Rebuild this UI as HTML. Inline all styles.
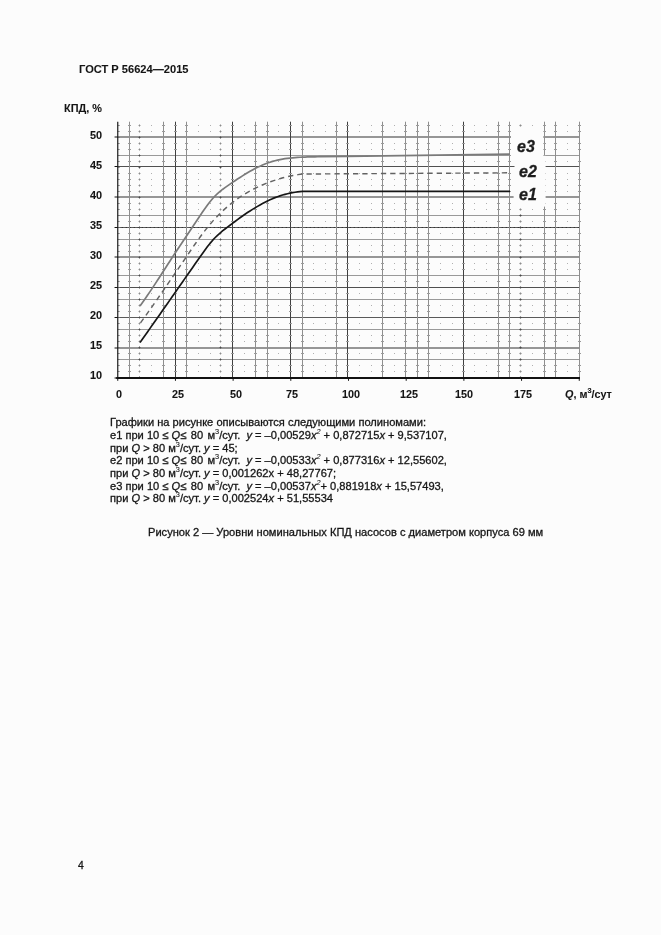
<!DOCTYPE html>
<html lang="ru">
<head>
<meta charset="utf-8">
<title>ГОСТ Р 56624—2015</title>
<style>
html,body{margin:0;padding:0;}
body{width:661px;height:935px;background:#fcfcfc;position:relative;overflow:hidden;
 font-family:"Liberation Sans",sans-serif;color:#151515;-webkit-text-stroke:0.3px #151515;}
.t{position:absolute;white-space:pre;line-height:1;will-change:transform;}
.b{font-weight:bold;}
.b,.hdr,.yl,.xl{-webkit-text-stroke:0.08px #151515;}
.lab{-webkit-text-stroke:0.3px #1c1c1c;}
.hdr{left:79.2px;top:63.85px;font-size:11.1px;font-weight:bold;}
.yl{font-size:10.9px;font-weight:bold;width:24px;text-align:right;left:78px;}
.xl{font-size:10.8px;font-weight:bold;top:388.9px;}
.body{font-size:11.1px;left:110px;}
i{font-style:italic;}
sup{font-size:7.3px;vertical-align:baseline;position:relative;top:-4.9px;line-height:0;-webkit-text-stroke:0.1px #151515;}
svg{position:absolute;left:0;top:0;}
.lab{font-weight:bold;font-style:italic;font-size:16px;color:#1c1c1c;}
</style>
</head>
<body>
<div class="t hdr">ГОСТ Р 56624—2015</div>
<div class="t b" style="left:64.3px;top:102.7px;font-size:10.9px;">КПД, %</div>

<div class="t yl" style="top:129.5px;">50</div>
<div class="t yl" style="top:159.5px;">45</div>
<div class="t yl" style="top:189.5px;">40</div>
<div class="t yl" style="top:219.5px;">35</div>
<div class="t yl" style="top:249.5px;">30</div>
<div class="t yl" style="top:279.5px;">25</div>
<div class="t yl" style="top:309.5px;">20</div>
<div class="t yl" style="top:339.5px;">15</div>
<div class="t yl" style="top:369.5px;">10</div>

<svg width="661" height="935" viewBox="0 0 661 935">
<g id="grid">
<line x1="117.75" x2="579.40" y1="155.50" y2="155.50" stroke="#999" stroke-width="1"/>
<line x1="117.75" x2="579.40" y1="215.50" y2="215.50" stroke="#999" stroke-width="1"/>
<line x1="117.75" x2="579.40" y1="239.50" y2="239.50" stroke="#999" stroke-width="1"/>
<line x1="117.75" x2="579.40" y1="275.50" y2="275.50" stroke="#999" stroke-width="1"/>
<line x1="117.75" x2="579.40" y1="299.50" y2="299.50" stroke="#999" stroke-width="1"/>
<line x1="117.75" x2="579.40" y1="329.50" y2="329.50" stroke="#999" stroke-width="1"/>
<line x1="117.75" x2="579.40" y1="359.50" y2="359.50" stroke="#999" stroke-width="1"/>
<line x1="117.75" x2="579.40" y1="137.00" y2="137.00" stroke="#969696" stroke-width="2"/>
<line x1="117.75" x2="579.40" y1="166.50" y2="166.50" stroke="#505050" stroke-width="1"/>
<line x1="117.75" x2="579.40" y1="197.00" y2="197.00" stroke="#969696" stroke-width="2"/>
<line x1="117.75" x2="579.40" y1="227.50" y2="227.50" stroke="#5a5a5a" stroke-width="1"/>
<line x1="117.75" x2="579.40" y1="227.50" y2="227.50" stroke="#2a2a2a" stroke-width="1" stroke-dasharray="1 3"/>
<line x1="117.75" x2="579.40" y1="257.00" y2="257.00" stroke="#969696" stroke-width="2"/>
<line x1="117.75" x2="579.40" y1="287.50" y2="287.50" stroke="#505050" stroke-width="1"/>
<line x1="117.75" x2="579.40" y1="317.50" y2="317.50" stroke="#5a5a5a" stroke-width="1"/>
<line x1="117.75" x2="579.40" y1="348.00" y2="348.00" stroke="#969696" stroke-width="2"/>
<line x1="129.50" x2="129.50" y1="121.7" y2="377.5" stroke="#8e8e8e" stroke-width="1"/>
<line x1="163.50" x2="163.50" y1="121.7" y2="377.5" stroke="#8e8e8e" stroke-width="1"/>
<line x1="175.50" x2="175.50" y1="121.7" y2="377.5" stroke="#404040" stroke-width="1"/>
<line x1="186.50" x2="186.50" y1="121.7" y2="377.5" stroke="#8e8e8e" stroke-width="1"/>
<line x1="232.50" x2="232.50" y1="121.7" y2="377.5" stroke="#404040" stroke-width="1"/>
<line x1="255.50" x2="255.50" y1="121.7" y2="377.5" stroke="#8e8e8e" stroke-width="1"/>
<line x1="267.50" x2="267.50" y1="121.7" y2="377.5" stroke="#8e8e8e" stroke-width="1"/>
<line x1="290.50" x2="290.50" y1="121.7" y2="377.5" stroke="#404040" stroke-width="1"/>
<line x1="302.50" x2="302.50" y1="121.7" y2="377.5" stroke="#8e8e8e" stroke-width="1"/>
<line x1="336.50" x2="336.50" y1="121.7" y2="377.5" stroke="#8e8e8e" stroke-width="1"/>
<line x1="347.50" x2="347.50" y1="121.7" y2="377.5" stroke="#404040" stroke-width="1"/>
<line x1="382.50" x2="382.50" y1="121.7" y2="377.5" stroke="#8e8e8e" stroke-width="1"/>
<line x1="405.50" x2="405.50" y1="121.7" y2="377.5" stroke="#8e8e8e" stroke-width="1"/>
<line x1="417.50" x2="417.50" y1="121.7" y2="377.5" stroke="#8e8e8e" stroke-width="1"/>
<line x1="428.50" x2="428.50" y1="121.7" y2="377.5" stroke="#8e8e8e" stroke-width="1"/>
<line x1="463.50" x2="463.50" y1="121.7" y2="377.5" stroke="#404040" stroke-width="1"/>
<line x1="498.50" x2="498.50" y1="121.7" y2="377.5" stroke="#8e8e8e" stroke-width="1"/>
<line x1="509.50" x2="509.50" y1="121.7" y2="377.5" stroke="#8e8e8e" stroke-width="1"/>
<line x1="544.50" x2="544.50" y1="121.7" y2="377.5" stroke="#8e8e8e" stroke-width="1"/>
<line x1="555.50" x2="555.50" y1="121.7" y2="377.5" stroke="#8e8e8e" stroke-width="1"/>
<line x1="579.50" x2="579.50" y1="121.7" y2="377.5" stroke="#8e8e8e" stroke-width="1"/>
<path d="M128.00 371.50h3 M162.00 371.50h3 M174.00 371.50h3 M185.00 371.50h3 M231.00 371.50h3 M254.00 371.50h3 M266.00 371.50h3 M289.00 371.50h3 M301.00 371.50h3 M335.00 371.50h3 M346.00 371.50h3 M381.00 371.50h3 M404.00 371.50h3 M416.00 371.50h3 M427.00 371.50h3 M462.00 371.50h3 M497.00 371.50h3 M508.00 371.50h3 M543.00 371.50h3 M554.00 371.50h3 M578.00 371.50h3 M128.00 365.50h3 M162.00 365.50h3 M174.00 365.50h3 M185.00 365.50h3 M231.00 365.50h3 M254.00 365.50h3 M266.00 365.50h3 M289.00 365.50h3 M301.00 365.50h3 M335.00 365.50h3 M346.00 365.50h3 M381.00 365.50h3 M404.00 365.50h3 M416.00 365.50h3 M427.00 365.50h3 M462.00 365.50h3 M497.00 365.50h3 M508.00 365.50h3 M543.00 365.50h3 M554.00 365.50h3 M578.00 365.50h3 M128.00 353.50h3 M162.00 353.50h3 M174.00 353.50h3 M185.00 353.50h3 M231.00 353.50h3 M254.00 353.50h3 M266.00 353.50h3 M289.00 353.50h3 M301.00 353.50h3 M335.00 353.50h3 M346.00 353.50h3 M381.00 353.50h3 M404.00 353.50h3 M416.00 353.50h3 M427.00 353.50h3 M462.00 353.50h3 M497.00 353.50h3 M508.00 353.50h3 M543.00 353.50h3 M554.00 353.50h3 M578.00 353.50h3 M128.00 341.50h3 M162.00 341.50h3 M174.00 341.50h3 M185.00 341.50h3 M231.00 341.50h3 M254.00 341.50h3 M266.00 341.50h3 M289.00 341.50h3 M301.00 341.50h3 M335.00 341.50h3 M346.00 341.50h3 M381.00 341.50h3 M404.00 341.50h3 M416.00 341.50h3 M427.00 341.50h3 M462.00 341.50h3 M497.00 341.50h3 M508.00 341.50h3 M543.00 341.50h3 M554.00 341.50h3 M578.00 341.50h3 M128.00 335.50h3 M162.00 335.50h3 M174.00 335.50h3 M185.00 335.50h3 M231.00 335.50h3 M254.00 335.50h3 M266.00 335.50h3 M289.00 335.50h3 M301.00 335.50h3 M335.00 335.50h3 M346.00 335.50h3 M381.00 335.50h3 M404.00 335.50h3 M416.00 335.50h3 M427.00 335.50h3 M462.00 335.50h3 M497.00 335.50h3 M508.00 335.50h3 M543.00 335.50h3 M554.00 335.50h3 M578.00 335.50h3 M128.00 323.50h3 M162.00 323.50h3 M174.00 323.50h3 M185.00 323.50h3 M231.00 323.50h3 M254.00 323.50h3 M266.00 323.50h3 M289.00 323.50h3 M301.00 323.50h3 M335.00 323.50h3 M346.00 323.50h3 M381.00 323.50h3 M404.00 323.50h3 M416.00 323.50h3 M427.00 323.50h3 M462.00 323.50h3 M497.00 323.50h3 M508.00 323.50h3 M543.00 323.50h3 M554.00 323.50h3 M578.00 323.50h3 M128.00 311.50h3 M162.00 311.50h3 M174.00 311.50h3 M185.00 311.50h3 M231.00 311.50h3 M254.00 311.50h3 M266.00 311.50h3 M289.00 311.50h3 M301.00 311.50h3 M335.00 311.50h3 M346.00 311.50h3 M381.00 311.50h3 M404.00 311.50h3 M416.00 311.50h3 M427.00 311.50h3 M462.00 311.50h3 M497.00 311.50h3 M508.00 311.50h3 M543.00 311.50h3 M554.00 311.50h3 M578.00 311.50h3 M128.00 305.50h3 M162.00 305.50h3 M174.00 305.50h3 M185.00 305.50h3 M231.00 305.50h3 M254.00 305.50h3 M266.00 305.50h3 M289.00 305.50h3 M301.00 305.50h3 M335.00 305.50h3 M346.00 305.50h3 M381.00 305.50h3 M404.00 305.50h3 M416.00 305.50h3 M427.00 305.50h3 M462.00 305.50h3 M497.00 305.50h3 M508.00 305.50h3 M543.00 305.50h3 M554.00 305.50h3 M578.00 305.50h3 M128.00 293.50h3 M162.00 293.50h3 M174.00 293.50h3 M185.00 293.50h3 M231.00 293.50h3 M254.00 293.50h3 M266.00 293.50h3 M289.00 293.50h3 M301.00 293.50h3 M335.00 293.50h3 M346.00 293.50h3 M381.00 293.50h3 M404.00 293.50h3 M416.00 293.50h3 M427.00 293.50h3 M462.00 293.50h3 M497.00 293.50h3 M508.00 293.50h3 M543.00 293.50h3 M554.00 293.50h3 M578.00 293.50h3 M128.00 281.50h3 M162.00 281.50h3 M174.00 281.50h3 M185.00 281.50h3 M231.00 281.50h3 M254.00 281.50h3 M266.00 281.50h3 M289.00 281.50h3 M301.00 281.50h3 M335.00 281.50h3 M346.00 281.50h3 M381.00 281.50h3 M404.00 281.50h3 M416.00 281.50h3 M427.00 281.50h3 M462.00 281.50h3 M497.00 281.50h3 M508.00 281.50h3 M543.00 281.50h3 M554.00 281.50h3 M578.00 281.50h3 M128.00 269.50h3 M162.00 269.50h3 M174.00 269.50h3 M185.00 269.50h3 M231.00 269.50h3 M254.00 269.50h3 M266.00 269.50h3 M289.00 269.50h3 M301.00 269.50h3 M335.00 269.50h3 M346.00 269.50h3 M381.00 269.50h3 M404.00 269.50h3 M416.00 269.50h3 M427.00 269.50h3 M462.00 269.50h3 M497.00 269.50h3 M508.00 269.50h3 M543.00 269.50h3 M554.00 269.50h3 M578.00 269.50h3 M128.00 263.50h3 M162.00 263.50h3 M174.00 263.50h3 M185.00 263.50h3 M231.00 263.50h3 M254.00 263.50h3 M266.00 263.50h3 M289.00 263.50h3 M301.00 263.50h3 M335.00 263.50h3 M346.00 263.50h3 M381.00 263.50h3 M404.00 263.50h3 M416.00 263.50h3 M427.00 263.50h3 M462.00 263.50h3 M497.00 263.50h3 M508.00 263.50h3 M543.00 263.50h3 M554.00 263.50h3 M578.00 263.50h3 M128.00 251.50h3 M162.00 251.50h3 M174.00 251.50h3 M185.00 251.50h3 M231.00 251.50h3 M254.00 251.50h3 M266.00 251.50h3 M289.00 251.50h3 M301.00 251.50h3 M335.00 251.50h3 M346.00 251.50h3 M381.00 251.50h3 M404.00 251.50h3 M416.00 251.50h3 M427.00 251.50h3 M462.00 251.50h3 M497.00 251.50h3 M508.00 251.50h3 M543.00 251.50h3 M554.00 251.50h3 M578.00 251.50h3 M128.00 245.50h3 M162.00 245.50h3 M174.00 245.50h3 M185.00 245.50h3 M231.00 245.50h3 M254.00 245.50h3 M266.00 245.50h3 M289.00 245.50h3 M301.00 245.50h3 M335.00 245.50h3 M346.00 245.50h3 M381.00 245.50h3 M404.00 245.50h3 M416.00 245.50h3 M427.00 245.50h3 M462.00 245.50h3 M497.00 245.50h3 M508.00 245.50h3 M543.00 245.50h3 M554.00 245.50h3 M578.00 245.50h3 M128.00 233.50h3 M162.00 233.50h3 M174.00 233.50h3 M185.00 233.50h3 M231.00 233.50h3 M254.00 233.50h3 M266.00 233.50h3 M289.00 233.50h3 M301.00 233.50h3 M335.00 233.50h3 M346.00 233.50h3 M381.00 233.50h3 M404.00 233.50h3 M416.00 233.50h3 M427.00 233.50h3 M462.00 233.50h3 M497.00 233.50h3 M508.00 233.50h3 M543.00 233.50h3 M554.00 233.50h3 M578.00 233.50h3 M128.00 221.50h3 M162.00 221.50h3 M174.00 221.50h3 M185.00 221.50h3 M231.00 221.50h3 M254.00 221.50h3 M266.00 221.50h3 M289.00 221.50h3 M301.00 221.50h3 M335.00 221.50h3 M346.00 221.50h3 M381.00 221.50h3 M404.00 221.50h3 M416.00 221.50h3 M427.00 221.50h3 M462.00 221.50h3 M497.00 221.50h3 M508.00 221.50h3 M543.00 221.50h3 M554.00 221.50h3 M578.00 221.50h3 M128.00 209.50h3 M162.00 209.50h3 M174.00 209.50h3 M185.00 209.50h3 M231.00 209.50h3 M254.00 209.50h3 M266.00 209.50h3 M289.00 209.50h3 M301.00 209.50h3 M335.00 209.50h3 M346.00 209.50h3 M381.00 209.50h3 M404.00 209.50h3 M416.00 209.50h3 M427.00 209.50h3 M462.00 209.50h3 M497.00 209.50h3 M508.00 209.50h3 M543.00 209.50h3 M554.00 209.50h3 M578.00 209.50h3 M128.00 203.50h3 M162.00 203.50h3 M174.00 203.50h3 M185.00 203.50h3 M231.00 203.50h3 M254.00 203.50h3 M266.00 203.50h3 M289.00 203.50h3 M301.00 203.50h3 M335.00 203.50h3 M346.00 203.50h3 M381.00 203.50h3 M404.00 203.50h3 M416.00 203.50h3 M427.00 203.50h3 M462.00 203.50h3 M497.00 203.50h3 M508.00 203.50h3 M543.00 203.50h3 M554.00 203.50h3 M578.00 203.50h3 M128.00 191.50h3 M162.00 191.50h3 M174.00 191.50h3 M185.00 191.50h3 M231.00 191.50h3 M254.00 191.50h3 M266.00 191.50h3 M289.00 191.50h3 M301.00 191.50h3 M335.00 191.50h3 M346.00 191.50h3 M381.00 191.50h3 M404.00 191.50h3 M416.00 191.50h3 M427.00 191.50h3 M462.00 191.50h3 M497.00 191.50h3 M508.00 191.50h3 M543.00 191.50h3 M554.00 191.50h3 M578.00 191.50h3 M128.00 185.50h3 M162.00 185.50h3 M174.00 185.50h3 M185.00 185.50h3 M231.00 185.50h3 M254.00 185.50h3 M266.00 185.50h3 M289.00 185.50h3 M301.00 185.50h3 M335.00 185.50h3 M346.00 185.50h3 M381.00 185.50h3 M404.00 185.50h3 M416.00 185.50h3 M427.00 185.50h3 M462.00 185.50h3 M497.00 185.50h3 M508.00 185.50h3 M543.00 185.50h3 M554.00 185.50h3 M578.00 185.50h3 M128.00 179.50h3 M162.00 179.50h3 M174.00 179.50h3 M185.00 179.50h3 M231.00 179.50h3 M254.00 179.50h3 M266.00 179.50h3 M289.00 179.50h3 M301.00 179.50h3 M335.00 179.50h3 M346.00 179.50h3 M381.00 179.50h3 M404.00 179.50h3 M416.00 179.50h3 M427.00 179.50h3 M462.00 179.50h3 M497.00 179.50h3 M508.00 179.50h3 M543.00 179.50h3 M554.00 179.50h3 M578.00 179.50h3 M128.00 173.50h3 M162.00 173.50h3 M174.00 173.50h3 M185.00 173.50h3 M231.00 173.50h3 M254.00 173.50h3 M266.00 173.50h3 M289.00 173.50h3 M301.00 173.50h3 M335.00 173.50h3 M346.00 173.50h3 M381.00 173.50h3 M404.00 173.50h3 M416.00 173.50h3 M427.00 173.50h3 M462.00 173.50h3 M497.00 173.50h3 M508.00 173.50h3 M543.00 173.50h3 M554.00 173.50h3 M578.00 173.50h3 M128.00 161.50h3 M162.00 161.50h3 M174.00 161.50h3 M185.00 161.50h3 M231.00 161.50h3 M254.00 161.50h3 M266.00 161.50h3 M289.00 161.50h3 M301.00 161.50h3 M335.00 161.50h3 M346.00 161.50h3 M381.00 161.50h3 M404.00 161.50h3 M416.00 161.50h3 M427.00 161.50h3 M462.00 161.50h3 M497.00 161.50h3 M508.00 161.50h3 M543.00 161.50h3 M554.00 161.50h3 M578.00 161.50h3 M128.00 149.50h3 M162.00 149.50h3 M174.00 149.50h3 M185.00 149.50h3 M231.00 149.50h3 M254.00 149.50h3 M266.00 149.50h3 M289.00 149.50h3 M301.00 149.50h3 M335.00 149.50h3 M346.00 149.50h3 M381.00 149.50h3 M404.00 149.50h3 M416.00 149.50h3 M427.00 149.50h3 M462.00 149.50h3 M497.00 149.50h3 M508.00 149.50h3 M543.00 149.50h3 M554.00 149.50h3 M578.00 149.50h3 M128.00 143.50h3 M162.00 143.50h3 M174.00 143.50h3 M185.00 143.50h3 M231.00 143.50h3 M254.00 143.50h3 M266.00 143.50h3 M289.00 143.50h3 M301.00 143.50h3 M335.00 143.50h3 M346.00 143.50h3 M381.00 143.50h3 M404.00 143.50h3 M416.00 143.50h3 M427.00 143.50h3 M462.00 143.50h3 M497.00 143.50h3 M508.00 143.50h3 M543.00 143.50h3 M554.00 143.50h3 M578.00 143.50h3 M128.00 131.50h3 M162.00 131.50h3 M174.00 131.50h3 M185.00 131.50h3 M231.00 131.50h3 M254.00 131.50h3 M266.00 131.50h3 M289.00 131.50h3 M301.00 131.50h3 M335.00 131.50h3 M346.00 131.50h3 M381.00 131.50h3 M404.00 131.50h3 M416.00 131.50h3 M427.00 131.50h3 M462.00 131.50h3 M497.00 131.50h3 M508.00 131.50h3 M543.00 131.50h3 M554.00 131.50h3 M578.00 131.50h3 M128.00 125.50h3 M162.00 125.50h3 M174.00 125.50h3 M185.00 125.50h3 M231.00 125.50h3 M254.00 125.50h3 M266.00 125.50h3 M289.00 125.50h3 M301.00 125.50h3 M335.00 125.50h3 M346.00 125.50h3 M381.00 125.50h3 M404.00 125.50h3 M416.00 125.50h3 M427.00 125.50h3 M462.00 125.50h3 M497.00 125.50h3 M508.00 125.50h3 M543.00 125.50h3 M554.00 125.50h3 M578.00 125.50h3" stroke="#9a9a9a" stroke-width="1" fill="none"/>
<path d="M138.35 371.50L139.50 370.35L140.65 371.50L139.50 372.65Z M219.35 371.50L220.50 370.35L221.65 371.50L220.50 372.65Z M519.15 371.50L520.50 370.15L521.85 371.50L520.50 372.85Z M138.35 365.50L139.50 364.35L140.65 365.50L139.50 366.65Z M219.35 365.50L220.50 364.35L221.65 365.50L220.50 366.65Z M519.15 365.50L520.50 364.15L521.85 365.50L520.50 366.85Z M138.35 353.50L139.50 352.35L140.65 353.50L139.50 354.65Z M219.35 353.50L220.50 352.35L221.65 353.50L220.50 354.65Z M519.15 353.50L520.50 352.15L521.85 353.50L520.50 354.85Z M138.35 341.50L139.50 340.35L140.65 341.50L139.50 342.65Z M219.35 341.50L220.50 340.35L221.65 341.50L220.50 342.65Z M519.15 341.50L520.50 340.15L521.85 341.50L520.50 342.85Z M138.35 335.50L139.50 334.35L140.65 335.50L139.50 336.65Z M219.35 335.50L220.50 334.35L221.65 335.50L220.50 336.65Z M519.15 335.50L520.50 334.15L521.85 335.50L520.50 336.85Z M138.35 323.50L139.50 322.35L140.65 323.50L139.50 324.65Z M219.35 323.50L220.50 322.35L221.65 323.50L220.50 324.65Z M519.15 323.50L520.50 322.15L521.85 323.50L520.50 324.85Z M138.35 311.50L139.50 310.35L140.65 311.50L139.50 312.65Z M219.35 311.50L220.50 310.35L221.65 311.50L220.50 312.65Z M519.15 311.50L520.50 310.15L521.85 311.50L520.50 312.85Z M138.35 305.50L139.50 304.35L140.65 305.50L139.50 306.65Z M219.35 305.50L220.50 304.35L221.65 305.50L220.50 306.65Z M519.15 305.50L520.50 304.15L521.85 305.50L520.50 306.85Z M138.35 293.50L139.50 292.35L140.65 293.50L139.50 294.65Z M219.35 293.50L220.50 292.35L221.65 293.50L220.50 294.65Z M519.15 293.50L520.50 292.15L521.85 293.50L520.50 294.85Z M138.35 281.50L139.50 280.35L140.65 281.50L139.50 282.65Z M219.35 281.50L220.50 280.35L221.65 281.50L220.50 282.65Z M519.15 281.50L520.50 280.15L521.85 281.50L520.50 282.85Z M138.35 269.50L139.50 268.35L140.65 269.50L139.50 270.65Z M219.35 269.50L220.50 268.35L221.65 269.50L220.50 270.65Z M519.15 269.50L520.50 268.15L521.85 269.50L520.50 270.85Z M138.35 263.50L139.50 262.35L140.65 263.50L139.50 264.65Z M219.35 263.50L220.50 262.35L221.65 263.50L220.50 264.65Z M519.15 263.50L520.50 262.15L521.85 263.50L520.50 264.85Z M138.35 251.50L139.50 250.35L140.65 251.50L139.50 252.65Z M219.35 251.50L220.50 250.35L221.65 251.50L220.50 252.65Z M519.15 251.50L520.50 250.15L521.85 251.50L520.50 252.85Z M138.35 245.50L139.50 244.35L140.65 245.50L139.50 246.65Z M219.35 245.50L220.50 244.35L221.65 245.50L220.50 246.65Z M519.15 245.50L520.50 244.15L521.85 245.50L520.50 246.85Z M138.35 233.50L139.50 232.35L140.65 233.50L139.50 234.65Z M219.35 233.50L220.50 232.35L221.65 233.50L220.50 234.65Z M519.15 233.50L520.50 232.15L521.85 233.50L520.50 234.85Z M138.35 221.50L139.50 220.35L140.65 221.50L139.50 222.65Z M219.35 221.50L220.50 220.35L221.65 221.50L220.50 222.65Z M519.15 221.50L520.50 220.15L521.85 221.50L520.50 222.85Z M138.35 209.50L139.50 208.35L140.65 209.50L139.50 210.65Z M219.35 209.50L220.50 208.35L221.65 209.50L220.50 210.65Z M519.15 209.50L520.50 208.15L521.85 209.50L520.50 210.85Z M138.35 203.50L139.50 202.35L140.65 203.50L139.50 204.65Z M219.35 203.50L220.50 202.35L221.65 203.50L220.50 204.65Z M519.15 203.50L520.50 202.15L521.85 203.50L520.50 204.85Z M138.35 191.50L139.50 190.35L140.65 191.50L139.50 192.65Z M219.35 191.50L220.50 190.35L221.65 191.50L220.50 192.65Z M519.15 191.50L520.50 190.15L521.85 191.50L520.50 192.85Z M138.35 185.50L139.50 184.35L140.65 185.50L139.50 186.65Z M219.35 185.50L220.50 184.35L221.65 185.50L220.50 186.65Z M519.15 185.50L520.50 184.15L521.85 185.50L520.50 186.85Z M138.35 179.50L139.50 178.35L140.65 179.50L139.50 180.65Z M219.35 179.50L220.50 178.35L221.65 179.50L220.50 180.65Z M519.15 179.50L520.50 178.15L521.85 179.50L520.50 180.85Z M138.35 173.50L139.50 172.35L140.65 173.50L139.50 174.65Z M219.35 173.50L220.50 172.35L221.65 173.50L220.50 174.65Z M519.15 173.50L520.50 172.15L521.85 173.50L520.50 174.85Z M138.35 161.50L139.50 160.35L140.65 161.50L139.50 162.65Z M219.35 161.50L220.50 160.35L221.65 161.50L220.50 162.65Z M519.15 161.50L520.50 160.15L521.85 161.50L520.50 162.85Z M138.35 149.50L139.50 148.35L140.65 149.50L139.50 150.65Z M219.35 149.50L220.50 148.35L221.65 149.50L220.50 150.65Z M519.15 149.50L520.50 148.15L521.85 149.50L520.50 150.85Z M138.35 143.50L139.50 142.35L140.65 143.50L139.50 144.65Z M219.35 143.50L220.50 142.35L221.65 143.50L220.50 144.65Z M519.15 143.50L520.50 142.15L521.85 143.50L520.50 144.85Z M138.35 131.50L139.50 130.35L140.65 131.50L139.50 132.65Z M219.35 131.50L220.50 130.35L221.65 131.50L220.50 132.65Z M519.15 131.50L520.50 130.15L521.85 131.50L520.50 132.85Z M138.35 125.50L139.50 124.35L140.65 125.50L139.50 126.65Z M219.35 125.50L220.50 124.35L221.65 125.50L220.50 126.65Z M519.15 125.50L520.50 124.15L521.85 125.50L520.50 126.85Z" fill="#8c8c8c" stroke="none"/>
<path d="M138.35 377.50L139.50 376.35L140.65 377.50L139.50 378.65Z M219.35 377.50L220.50 376.35L221.65 377.50L220.50 378.65Z M519.15 377.50L520.50 376.15L521.85 377.50L520.50 378.85Z M138.35 359.50L139.50 358.35L140.65 359.50L139.50 360.65Z M219.35 359.50L220.50 358.35L221.65 359.50L220.50 360.65Z M519.15 359.50L520.50 358.15L521.85 359.50L520.50 360.85Z M138.35 347.50L139.50 346.35L140.65 347.50L139.50 348.65Z M219.35 347.50L220.50 346.35L221.65 347.50L220.50 348.65Z M519.15 347.50L520.50 346.15L521.85 347.50L520.50 348.85Z M138.35 329.50L139.50 328.35L140.65 329.50L139.50 330.65Z M219.35 329.50L220.50 328.35L221.65 329.50L220.50 330.65Z M519.15 329.50L520.50 328.15L521.85 329.50L520.50 330.85Z M138.35 317.50L139.50 316.35L140.65 317.50L139.50 318.65Z M219.35 317.50L220.50 316.35L221.65 317.50L220.50 318.65Z M519.15 317.50L520.50 316.15L521.85 317.50L520.50 318.85Z M138.35 299.50L139.50 298.35L140.65 299.50L139.50 300.65Z M219.35 299.50L220.50 298.35L221.65 299.50L220.50 300.65Z M519.15 299.50L520.50 298.15L521.85 299.50L520.50 300.85Z M138.35 287.50L139.50 286.35L140.65 287.50L139.50 288.65Z M219.35 287.50L220.50 286.35L221.65 287.50L220.50 288.65Z M519.15 287.50L520.50 286.15L521.85 287.50L520.50 288.85Z M138.35 275.50L139.50 274.35L140.65 275.50L139.50 276.65Z M219.35 275.50L220.50 274.35L221.65 275.50L220.50 276.65Z M519.15 275.50L520.50 274.15L521.85 275.50L520.50 276.85Z M138.35 257.50L139.50 256.35L140.65 257.50L139.50 258.65Z M219.35 257.50L220.50 256.35L221.65 257.50L220.50 258.65Z M519.15 257.50L520.50 256.15L521.85 257.50L520.50 258.85Z M138.35 239.50L139.50 238.35L140.65 239.50L139.50 240.65Z M219.35 239.50L220.50 238.35L221.65 239.50L220.50 240.65Z M519.15 239.50L520.50 238.15L521.85 239.50L520.50 240.85Z M138.35 227.50L139.50 226.35L140.65 227.50L139.50 228.65Z M219.35 227.50L220.50 226.35L221.65 227.50L220.50 228.65Z M519.15 227.50L520.50 226.15L521.85 227.50L520.50 228.85Z M138.35 215.50L139.50 214.35L140.65 215.50L139.50 216.65Z M219.35 215.50L220.50 214.35L221.65 215.50L220.50 216.65Z M519.15 215.50L520.50 214.15L521.85 215.50L520.50 216.85Z M138.35 197.50L139.50 196.35L140.65 197.50L139.50 198.65Z M219.35 197.50L220.50 196.35L221.65 197.50L220.50 198.65Z M519.15 197.50L520.50 196.15L521.85 197.50L520.50 198.85Z M138.35 167.50L139.50 166.35L140.65 167.50L139.50 168.65Z M219.35 167.50L220.50 166.35L221.65 167.50L220.50 168.65Z M519.15 167.50L520.50 166.15L521.85 167.50L520.50 168.85Z M138.35 155.50L139.50 154.35L140.65 155.50L139.50 156.65Z M219.35 155.50L220.50 154.35L221.65 155.50L220.50 156.65Z M519.15 155.50L520.50 154.15L521.85 155.50L520.50 156.85Z M138.35 137.50L139.50 136.35L140.65 137.50L139.50 138.65Z M219.35 137.50L220.50 136.35L221.65 137.50L220.50 138.65Z M519.15 137.50L520.50 136.15L521.85 137.50L520.50 138.85Z" fill="#4a4a4a" stroke="none"/>
<path d="M151.00 371.50h1 M198.00 371.50h1 M210.00 371.50h1 M244.00 371.50h1 M278.00 371.50h1 M313.00 371.50h1 M325.00 371.50h1 M359.00 371.50h1 M371.00 371.50h1 M394.00 371.50h1 M440.00 371.50h1 M452.00 371.50h1 M474.00 371.50h1 M486.00 371.50h1 M532.00 371.50h1 M567.00 371.50h1 M151.00 365.50h1 M198.00 365.50h1 M210.00 365.50h1 M244.00 365.50h1 M278.00 365.50h1 M313.00 365.50h1 M325.00 365.50h1 M359.00 365.50h1 M371.00 365.50h1 M394.00 365.50h1 M440.00 365.50h1 M452.00 365.50h1 M474.00 365.50h1 M486.00 365.50h1 M532.00 365.50h1 M567.00 365.50h1 M151.00 353.50h1 M198.00 353.50h1 M210.00 353.50h1 M244.00 353.50h1 M278.00 353.50h1 M313.00 353.50h1 M325.00 353.50h1 M359.00 353.50h1 M371.00 353.50h1 M394.00 353.50h1 M440.00 353.50h1 M452.00 353.50h1 M474.00 353.50h1 M486.00 353.50h1 M532.00 353.50h1 M567.00 353.50h1 M151.00 341.50h1 M198.00 341.50h1 M210.00 341.50h1 M244.00 341.50h1 M278.00 341.50h1 M313.00 341.50h1 M325.00 341.50h1 M359.00 341.50h1 M371.00 341.50h1 M394.00 341.50h1 M440.00 341.50h1 M452.00 341.50h1 M474.00 341.50h1 M486.00 341.50h1 M532.00 341.50h1 M567.00 341.50h1 M151.00 335.50h1 M198.00 335.50h1 M210.00 335.50h1 M244.00 335.50h1 M278.00 335.50h1 M313.00 335.50h1 M325.00 335.50h1 M359.00 335.50h1 M371.00 335.50h1 M394.00 335.50h1 M440.00 335.50h1 M452.00 335.50h1 M474.00 335.50h1 M486.00 335.50h1 M532.00 335.50h1 M567.00 335.50h1 M151.00 323.50h1 M198.00 323.50h1 M210.00 323.50h1 M244.00 323.50h1 M278.00 323.50h1 M313.00 323.50h1 M325.00 323.50h1 M359.00 323.50h1 M371.00 323.50h1 M394.00 323.50h1 M440.00 323.50h1 M452.00 323.50h1 M474.00 323.50h1 M486.00 323.50h1 M532.00 323.50h1 M567.00 323.50h1 M151.00 311.50h1 M198.00 311.50h1 M210.00 311.50h1 M244.00 311.50h1 M278.00 311.50h1 M313.00 311.50h1 M325.00 311.50h1 M359.00 311.50h1 M371.00 311.50h1 M394.00 311.50h1 M440.00 311.50h1 M452.00 311.50h1 M474.00 311.50h1 M486.00 311.50h1 M532.00 311.50h1 M567.00 311.50h1 M151.00 305.50h1 M198.00 305.50h1 M210.00 305.50h1 M244.00 305.50h1 M278.00 305.50h1 M313.00 305.50h1 M325.00 305.50h1 M359.00 305.50h1 M371.00 305.50h1 M394.00 305.50h1 M440.00 305.50h1 M452.00 305.50h1 M474.00 305.50h1 M486.00 305.50h1 M532.00 305.50h1 M567.00 305.50h1 M151.00 293.50h1 M198.00 293.50h1 M210.00 293.50h1 M244.00 293.50h1 M278.00 293.50h1 M313.00 293.50h1 M325.00 293.50h1 M359.00 293.50h1 M371.00 293.50h1 M394.00 293.50h1 M440.00 293.50h1 M452.00 293.50h1 M474.00 293.50h1 M486.00 293.50h1 M532.00 293.50h1 M567.00 293.50h1 M151.00 281.50h1 M198.00 281.50h1 M210.00 281.50h1 M244.00 281.50h1 M278.00 281.50h1 M313.00 281.50h1 M325.00 281.50h1 M359.00 281.50h1 M371.00 281.50h1 M394.00 281.50h1 M440.00 281.50h1 M452.00 281.50h1 M474.00 281.50h1 M486.00 281.50h1 M532.00 281.50h1 M567.00 281.50h1 M151.00 269.50h1 M198.00 269.50h1 M210.00 269.50h1 M244.00 269.50h1 M278.00 269.50h1 M313.00 269.50h1 M325.00 269.50h1 M359.00 269.50h1 M371.00 269.50h1 M394.00 269.50h1 M440.00 269.50h1 M452.00 269.50h1 M474.00 269.50h1 M486.00 269.50h1 M532.00 269.50h1 M567.00 269.50h1 M151.00 263.50h1 M198.00 263.50h1 M210.00 263.50h1 M244.00 263.50h1 M278.00 263.50h1 M313.00 263.50h1 M325.00 263.50h1 M359.00 263.50h1 M371.00 263.50h1 M394.00 263.50h1 M440.00 263.50h1 M452.00 263.50h1 M474.00 263.50h1 M486.00 263.50h1 M532.00 263.50h1 M567.00 263.50h1 M151.00 251.50h1 M198.00 251.50h1 M210.00 251.50h1 M244.00 251.50h1 M278.00 251.50h1 M313.00 251.50h1 M325.00 251.50h1 M359.00 251.50h1 M371.00 251.50h1 M394.00 251.50h1 M440.00 251.50h1 M452.00 251.50h1 M474.00 251.50h1 M486.00 251.50h1 M532.00 251.50h1 M567.00 251.50h1 M151.00 245.50h1 M198.00 245.50h1 M210.00 245.50h1 M244.00 245.50h1 M278.00 245.50h1 M313.00 245.50h1 M325.00 245.50h1 M359.00 245.50h1 M371.00 245.50h1 M394.00 245.50h1 M440.00 245.50h1 M452.00 245.50h1 M474.00 245.50h1 M486.00 245.50h1 M532.00 245.50h1 M567.00 245.50h1 M151.00 233.50h1 M198.00 233.50h1 M210.00 233.50h1 M244.00 233.50h1 M278.00 233.50h1 M313.00 233.50h1 M325.00 233.50h1 M359.00 233.50h1 M371.00 233.50h1 M394.00 233.50h1 M440.00 233.50h1 M452.00 233.50h1 M474.00 233.50h1 M486.00 233.50h1 M532.00 233.50h1 M567.00 233.50h1 M151.00 221.50h1 M198.00 221.50h1 M210.00 221.50h1 M244.00 221.50h1 M278.00 221.50h1 M313.00 221.50h1 M325.00 221.50h1 M359.00 221.50h1 M371.00 221.50h1 M394.00 221.50h1 M440.00 221.50h1 M452.00 221.50h1 M474.00 221.50h1 M486.00 221.50h1 M532.00 221.50h1 M567.00 221.50h1 M151.00 209.50h1 M198.00 209.50h1 M210.00 209.50h1 M244.00 209.50h1 M278.00 209.50h1 M313.00 209.50h1 M325.00 209.50h1 M359.00 209.50h1 M371.00 209.50h1 M394.00 209.50h1 M440.00 209.50h1 M452.00 209.50h1 M474.00 209.50h1 M486.00 209.50h1 M532.00 209.50h1 M567.00 209.50h1 M151.00 203.50h1 M198.00 203.50h1 M210.00 203.50h1 M244.00 203.50h1 M278.00 203.50h1 M313.00 203.50h1 M325.00 203.50h1 M359.00 203.50h1 M371.00 203.50h1 M394.00 203.50h1 M440.00 203.50h1 M452.00 203.50h1 M474.00 203.50h1 M486.00 203.50h1 M532.00 203.50h1 M567.00 203.50h1 M151.00 191.50h1 M198.00 191.50h1 M210.00 191.50h1 M244.00 191.50h1 M278.00 191.50h1 M313.00 191.50h1 M325.00 191.50h1 M359.00 191.50h1 M371.00 191.50h1 M394.00 191.50h1 M440.00 191.50h1 M452.00 191.50h1 M474.00 191.50h1 M486.00 191.50h1 M532.00 191.50h1 M567.00 191.50h1 M151.00 185.50h1 M198.00 185.50h1 M210.00 185.50h1 M244.00 185.50h1 M278.00 185.50h1 M313.00 185.50h1 M325.00 185.50h1 M359.00 185.50h1 M371.00 185.50h1 M394.00 185.50h1 M440.00 185.50h1 M452.00 185.50h1 M474.00 185.50h1 M486.00 185.50h1 M532.00 185.50h1 M567.00 185.50h1 M151.00 179.50h1 M198.00 179.50h1 M210.00 179.50h1 M244.00 179.50h1 M278.00 179.50h1 M313.00 179.50h1 M325.00 179.50h1 M359.00 179.50h1 M371.00 179.50h1 M394.00 179.50h1 M440.00 179.50h1 M452.00 179.50h1 M474.00 179.50h1 M486.00 179.50h1 M532.00 179.50h1 M567.00 179.50h1 M151.00 173.50h1 M198.00 173.50h1 M210.00 173.50h1 M244.00 173.50h1 M278.00 173.50h1 M313.00 173.50h1 M325.00 173.50h1 M359.00 173.50h1 M371.00 173.50h1 M394.00 173.50h1 M440.00 173.50h1 M452.00 173.50h1 M474.00 173.50h1 M486.00 173.50h1 M532.00 173.50h1 M567.00 173.50h1 M151.00 161.50h1 M198.00 161.50h1 M210.00 161.50h1 M244.00 161.50h1 M278.00 161.50h1 M313.00 161.50h1 M325.00 161.50h1 M359.00 161.50h1 M371.00 161.50h1 M394.00 161.50h1 M440.00 161.50h1 M452.00 161.50h1 M474.00 161.50h1 M486.00 161.50h1 M532.00 161.50h1 M567.00 161.50h1 M151.00 149.50h1 M198.00 149.50h1 M210.00 149.50h1 M244.00 149.50h1 M278.00 149.50h1 M313.00 149.50h1 M325.00 149.50h1 M359.00 149.50h1 M371.00 149.50h1 M394.00 149.50h1 M440.00 149.50h1 M452.00 149.50h1 M474.00 149.50h1 M486.00 149.50h1 M532.00 149.50h1 M567.00 149.50h1 M151.00 143.50h1 M198.00 143.50h1 M210.00 143.50h1 M244.00 143.50h1 M278.00 143.50h1 M313.00 143.50h1 M325.00 143.50h1 M359.00 143.50h1 M371.00 143.50h1 M394.00 143.50h1 M440.00 143.50h1 M452.00 143.50h1 M474.00 143.50h1 M486.00 143.50h1 M532.00 143.50h1 M567.00 143.50h1 M151.00 131.50h1 M198.00 131.50h1 M210.00 131.50h1 M244.00 131.50h1 M278.00 131.50h1 M313.00 131.50h1 M325.00 131.50h1 M359.00 131.50h1 M371.00 131.50h1 M394.00 131.50h1 M440.00 131.50h1 M452.00 131.50h1 M474.00 131.50h1 M486.00 131.50h1 M532.00 131.50h1 M567.00 131.50h1 M151.00 125.50h1 M198.00 125.50h1 M210.00 125.50h1 M244.00 125.50h1 M278.00 125.50h1 M313.00 125.50h1 M325.00 125.50h1 M359.00 125.50h1 M371.00 125.50h1 M394.00 125.50h1 M440.00 125.50h1 M452.00 125.50h1 M474.00 125.50h1 M486.00 125.50h1 M532.00 125.50h1 M567.00 125.50h1" stroke="#b0b0b0" stroke-width="1" fill="none"/>
<path d="M117.75 377.50h2 M117.75 371.50h2 M117.75 365.50h2 M117.75 359.50h2 M117.75 353.50h2 M117.75 347.50h2 M117.75 341.50h2 M117.75 335.50h2 M117.75 329.50h2 M117.75 323.50h2 M117.75 317.50h2 M117.75 311.50h2 M117.75 305.50h2 M117.75 299.50h2 M117.75 293.50h2 M117.75 287.50h2 M117.75 281.50h2 M117.75 275.50h2 M117.75 269.50h2 M117.75 263.50h2 M117.75 257.50h2 M117.75 251.50h2 M117.75 245.50h2 M117.75 239.50h2 M117.75 233.50h2 M117.75 227.50h2 M117.75 221.50h2 M117.75 215.50h2 M117.75 209.50h2 M117.75 203.50h2 M117.75 197.50h2 M117.75 191.50h2 M117.75 185.50h2 M117.75 179.50h2 M117.75 173.50h2 M117.75 167.50h2 M117.75 161.50h2 M117.75 155.50h2 M117.75 149.50h2 M117.75 143.50h2 M117.75 137.50h2 M117.75 131.50h2 M117.75 125.50h2" stroke="#777" stroke-width="0.8" fill="none"/>
</g>
<!-- white label boxes -->
<rect x="511" y="127" width="32.3" height="29" fill="#fcfcfc"/>
<rect x="511" y="155.8" width="34.6" height="50.8" fill="#fcfcfc"/>
<line x1="510.5" x2="514.5" y1="166.5" y2="166.5" stroke="#505050" stroke-width="1"/>
<line x1="510.5" x2="513.6" y1="197" y2="197" stroke="#969696" stroke-width="2"/>
<!-- curves -->
<g fill="none" stroke-linejoin="round" stroke-linecap="butt">
<path id="e3" stroke="#7a7a7a" stroke-width="1.7" d="M140.0 306.00L142.5 302.52L145.0 298.96L147.5 295.33L150.0 291.64L152.5 287.90L155.0 284.11L157.5 280.28L160.0 276.43L162.5 272.56L165.0 268.68L167.5 264.80L170.0 260.93L172.5 257.07L175.0 253.25L177.5 249.45L180.0 245.69L182.5 241.94L185.0 238.21L187.5 234.49L190.0 230.77L192.5 227.04L195.0 223.30L197.5 219.53L200.0 215.77L202.5 212.06L205.0 208.45L207.5 204.98L210.0 201.72L212.5 198.71L215.0 195.99L217.5 193.57L220.0 191.41L222.5 189.44L225.0 187.61L227.5 185.85L230.0 184.12L232.5 182.41L235.0 180.73L237.5 179.07L240.0 177.44L242.5 175.85L245.0 174.30L247.5 172.80L250.0 171.35L252.5 169.95L255.0 168.62L257.5 167.36L260.0 166.16L262.5 165.05L265.0 164.01L267.5 163.06L270.0 162.20L272.5 161.43L275.0 160.74L277.5 160.13L280.0 159.59L282.5 159.11L285.0 158.70L287.5 158.34L290.0 158.04L292.5 157.78L295.0 157.57L297.5 157.39L300.0 157.25L302.5 157.14L305.0 157.04L307.5 156.97L310.0 156.91L312.5 156.86L315.0 156.81L317.5 156.76L320.0 156.70L347.0 156.3L510.0 154.1"/>
<path id="e2" stroke="#626262" stroke-width="1.45" stroke-dasharray="5.3 4" d="M140.5 322.89L143.0 319.43L145.5 315.94L148.0 312.42L150.5 308.89L153.0 305.34L155.5 301.77L158.0 298.18L160.5 294.57L163.0 290.96L165.5 287.33L168.0 283.69L170.5 280.04L173.0 276.38L175.5 272.72L178.0 269.06L180.5 265.39L183.0 261.72L185.5 258.05L188.0 254.38L190.5 250.72L193.0 247.08L195.5 243.47L198.0 239.93L200.5 236.47L203.0 233.10L205.5 229.86L208.0 226.74L210.5 223.75L213.0 220.89L215.5 218.15L218.0 215.53L220.5 213.02L223.0 210.62L225.5 208.34L228.0 206.16L230.5 204.08L233.0 202.10L235.5 200.21L238.0 198.42L240.5 196.71L243.0 195.09L245.5 193.55L248.0 192.08L250.5 190.69L253.0 189.37L255.5 188.11L258.0 186.92L260.5 185.79L263.0 184.71L265.5 183.69L268.0 182.71L270.5 181.78L273.0 180.89L275.5 180.04L278.0 179.24L280.5 178.48L283.0 177.77L285.5 177.12L288.0 176.51L290.5 175.95L293.0 175.45L295.5 175.00L298.0 174.62L300.5 174.29L303.0 174.02L305.5 173.90L308.0 173.90L310.5 173.90L313.0 173.90L315.5 173.90L318.0 173.90L320.0 173.91L347.0 173.8L510.0 172.8"/>
<path id="e1" stroke="#161616" stroke-width="1.7" d="M140.0 342.40L142.5 338.91L145.0 335.41L147.5 331.89L150.0 328.37L152.5 324.83L155.0 321.28L157.5 317.73L160.0 314.17L162.5 310.61L165.0 307.03L167.5 303.46L170.0 299.88L172.5 296.29L175.0 292.71L177.5 289.12L180.0 285.54L182.5 281.95L185.0 278.37L187.5 274.79L190.0 271.21L192.5 267.64L195.0 264.08L197.5 260.52L200.0 256.96L202.5 253.43L205.0 249.95L207.5 246.59L210.0 243.40L212.5 240.44L215.0 237.74L217.5 235.29L220.0 233.04L222.5 230.95L225.0 228.98L227.5 227.10L230.0 225.25L232.5 223.41L235.0 221.53L237.5 219.65L240.0 217.79L242.5 215.98L245.0 214.24L247.5 212.56L250.0 210.95L252.5 209.38L255.0 207.87L257.5 206.39L260.0 204.95L262.5 203.57L265.0 202.24L267.5 200.97L270.0 199.78L272.5 198.66L275.0 197.63L277.5 196.69L280.0 195.83L282.5 195.05L285.0 194.35L287.5 193.72L290.0 193.17L292.5 192.69L295.0 192.28L297.5 191.94L300.0 191.66L302.5 191.44L305.0 191.40L307.5 191.40L310.0 191.40L312.5 191.40L315.0 191.40L317.5 191.40L320.0 191.41L510.0 191.3"/>
</g>
<!-- axes -->
<line x1="117.75" x2="117.75" y1="121.7" y2="379" stroke="#1c1c1c" stroke-width="1.2"/>
<line x1="116.2" x2="580" y1="378" y2="378" stroke="#111" stroke-width="2.1"/>
<path d="M117.75 378v2.8 M175.44 378v2.8 M233.12 378v2.8 M290.81 378v2.8 M348.50 378v2.8 M406.19 378v2.8 M463.88 378v2.8 M521.56 378v2.8 M579.25 378v2.8 M114.55 378.00h3.2 M114.55 348.00h3.2 M114.55 317.50h3.2 M114.55 287.50h3.2 M114.55 257.00h3.2 M114.55 227.50h3.2 M114.55 197.00h3.2 M114.55 166.50h3.2 M114.55 137.00h3.2" stroke="#111" stroke-width="1" fill="none"/>
</svg>

<div class="t lab" style="left:516.6px;top:138.66px;">e3</div>
<div class="t lab" style="left:519.2px;top:163.76px;">e2</div>
<div class="t lab" style="left:518.8px;top:187.36px;">e1</div>
<div class="t xl" style="left:116.2px;">0</div>
<div class="t xl" style="left:172.3px;">25</div>
<div class="t xl" style="left:230.4px;">50</div>
<div class="t xl" style="left:285.8px;">75</div>
<div class="t xl" style="left:342.3px;">100</div>
<div class="t xl" style="left:400.3px;">125</div>
<div class="t xl" style="left:455.4px;">150</div>
<div class="t xl" style="left:514.4px;">175</div>
<div class="t xl" style="left:564.5px;"><i>Q</i>, м<sup>3</sup>/сут</div>

<div class="t body" style="top:417.20px;">Графики на рисунке описываются следующими полиномами:</div>
<div class="t body" style="top:429.91px;">е1 при 10 ≤ <i>Q</i><span style="margin-right:1.5px">≤</span> 80<span style="margin-left:1.2px"> </span>м<sup>3</sup>/сут.  <i>y</i> = –0,00529<i>x</i><sup><i>2</i></sup> + 0,872715<i>x</i> + 9,537107,</div>
<div class="t body" style="top:442.62px;">при <i>Q</i> &gt; 80 м<sup>3</sup>/сут. <i>y</i> = 45;</div>
<div class="t body" style="top:455.33px;">е2 при 10 ≤ <i>Q</i><span style="margin-right:1.5px">≤</span> 80<span style="margin-left:1.2px"> </span>м<sup>3</sup>/сут.  <i>y</i> = –0,00533<i>x</i><sup><i>2</i></sup> + 0,877316<i>x</i> + 12,55602,</div>
<div class="t body" style="top:468.04px;">при <i>Q</i> &gt; 80 м<sup>3</sup>/сут. <i>y</i> = 0,001262x + 48,27767;</div>
<div class="t body" style="top:480.75px;">е3 при 10 ≤ <i>Q</i><span style="margin-right:1.5px">≤</span> 80<span style="margin-left:1.2px"> </span>м<sup>3</sup>/сут.  <i>y</i> = –0,00537<i>x</i><sup><i>2</i></sup>+ 0,881918<i>x</i> + 15,57493,</div>
<div class="t body" style="top:493.46px;">при <i>Q</i> &gt; 80 м<sup>3</sup>/сут. <i>y</i> = 0,002524<i>x</i> + 51,55534</div>

<div class="t" style="left:148.3px;top:526.6px;font-size:11.1px;">Рисунок 2 — Уровни номинальных КПД насосов с диаметром корпуса 69 мм</div>
<div class="t" style="left:78.4px;top:860.9px;font-size:10.4px;">4</div>
</body>
</html>
